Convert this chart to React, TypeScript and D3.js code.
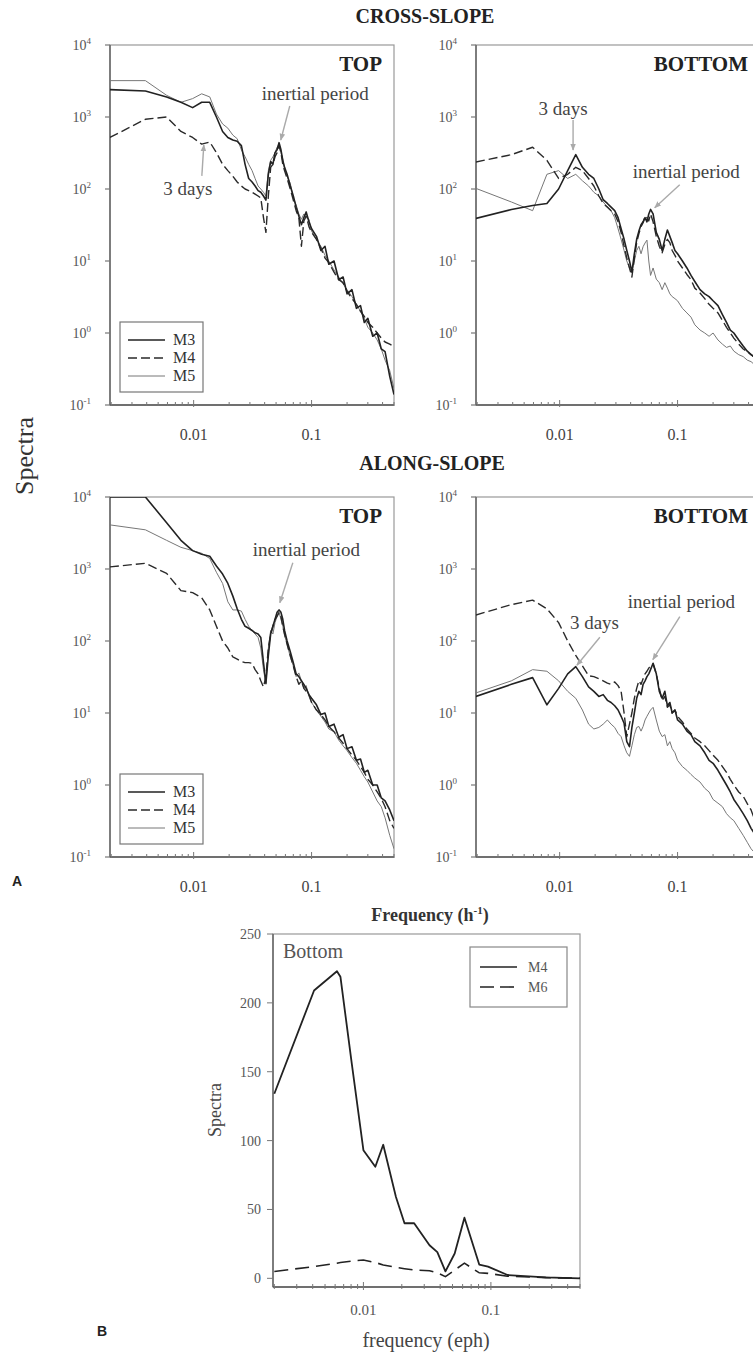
import * as d3 from 'd3';
import { useEffect, useRef } from 'react';

// frequency grid (cph) shared by the four log-log panels
const freq = [0.00195, 0.0039, 0.0059, 0.0078, 0.0098, 0.0117, 0.0137, 0.0156, 0.0176, 0.0195, 0.0215, 0.0234, 0.0254, 0.0273, 0.0293, 0.0313, 0.0332, 0.0352, 0.0371, 0.0391, 0.041, 0.043, 0.045, 0.047, 0.049, 0.051, 0.053, 0.055, 0.057, 0.059, 0.062, 0.066, 0.07, 0.074, 0.078, 0.082, 0.086, 0.09, 0.095, 0.1, 0.11, 0.12, 0.13, 0.14, 0.155, 0.17, 0.185, 0.2, 0.22, 0.24, 0.26, 0.28, 0.3, 0.33, 0.36, 0.39, 0.42, 0.46, 0.5];

// cross-slope, top
const crossTopM3 = [2400, 2300, 1900, 1600, 1350, 1600, 1600, 1000, 630, 520, 480, 460, 400, 220, 140, 125, 110, 95, 90, 80, 70, 160, 240, 220, 320, 350, 440, 350, 250, 200, 160, 110, 80, 56, 42, 32, 40, 48, 35, 28, 22, 14, 16, 9, 10, 5.5, 6, 3.5, 4, 2.2, 2.4, 1.4, 1.6, 0.9, 1.0, 0.6, 0.55, 0.25, 0.14];
const crossTopM4 = [520, 930, 1000, 630, 520, 420, 450, 320, 220, 180, 150, 125, 110, 100, 95, 90, 85, 80, 75, 40, 25, 80, 200, 220, 280, 320, 400, 320, 220, 180, 140, 100, 70, 50, 40, 16, 36, 42, 30, 25, 20, 15, 11, 9.5, 7, 5.5, 5, 3.8, 3, 2.5, 2.0, 1.7, 1.4, 1.2, 1.0, 0.85, 0.75, 0.7, 0.65];
const crossTopM5 = [3200, 3200, 2000, 1600, 1800, 2100, 1900, 1100, 800, 700, 560, 500, 350, 280, 220, 180, 140, 110, 100, 90, 80, 180, 250, 280, 320, 380, 420, 320, 260, 190, 150, 120, 75, 60, 45, 38, 45, 40, 38, 26, 20, 16, 12, 10, 7.5, 6, 4.8, 4, 3.2, 2.5, 2, 1.6, 1.2, 1.0, 0.8, 0.6, 0.42, 0.3, 0.17];

// cross-slope, bottom
const crossBotM3 = [39, 52, 59, 63, 100, 180, 300, 200, 160, 140, 100, 71, 63, 56, 50, 40, 28, 20, 14, 10, 7, 12.6, 20, 26, 32, 35, 40, 35, 45, 52, 45, 25, 20, 14, 20, 27, 22, 18, 14, 12.6, 10, 8, 6.3, 5.2, 4, 3.5, 3.2, 2.8, 2.4, 1.8, 1.4, 1.1, 1.0, 0.8, 0.66, 0.56, 0.5, 0.45, 0.4];
const crossBotM4 = [237, 300, 380, 250, 140, 160, 200, 180, 140, 110, 80, 63, 56, 50, 45, 35, 25, 16, 11, 8, 6, 11, 18, 24, 30, 34, 42, 40, 36, 45, 35, 22, 16, 13, 17, 20, 18, 14, 12, 10, 8, 6.5, 5.5, 4.2, 3.6, 3, 2.5, 2.2, 1.9, 1.5, 1.2, 1.0, 0.85, 0.7, 0.6, 0.55, 0.5, 0.45, 0.4];
const crossBotM5 = [102, 66, 50, 160, 180, 140, 160, 130, 110, 90, 80, 66, 56, 50, 40, 28, 20, 14, 10, 8, 7, 10, 14, 16, 12.6, 15.8, 17.8, 19.5, 10, 6.3, 8, 5.6, 5, 4, 5, 4.2, 3.5, 3.2, 3, 2.8, 2.2, 1.9, 1.66, 1.3, 1.1, 1.0, 0.9, 1.0, 0.8, 0.7, 0.63, 0.66, 0.56, 0.5, 0.47, 0.42, 0.4, 0.35, 0.32];

// along-slope, top
const alongTopM3 = [10000, 10000, 4400, 2500, 1800, 1600, 1500, 1100, 850, 630, 420, 280, 200, 160, 150, 140, 130, 125, 112, 50, 26, 63, 125, 160, 200, 250, 270, 250, 200, 140, 100, 71, 50, 35, 32, 28, 25, 22, 18, 16, 13, 9.5, 10, 6.5, 7, 4.6, 5, 3.2, 3.4, 2.2, 2.3, 1.5, 1.6, 1.0, 1.0, 0.66, 0.6, 0.45, 0.32];
const alongTopM4 = [1070, 1200, 870, 500, 470, 400, 270, 160, 100, 80, 60, 56, 52, 50, 50, 49, 40, 35, 28, 23, 32, 80, 125, 160, 200, 220, 250, 220, 160, 125, 90, 63, 45, 32, 25, 28, 22, 20, 18, 14, 11, 9.5, 8, 6.5, 5.5, 4.5, 3.8, 3.2, 2.6, 2.2, 1.8, 1.5, 1.2, 1.0, 0.8, 0.65, 0.5, 0.32, 0.25];
const alongTopM5 = [4100, 3500, 2500, 2000, 1800, 1650, 1400, 900, 630, 350, 270, 270, 260, 200, 160, 140, 125, 112, 80, 40, 25, 80, 140, 125, 180, 220, 250, 200, 160, 120, 90, 60, 45, 32, 36, 28, 22, 24, 17, 14, 11, 9, 7.5, 6, 5.5, 4.2, 3.5, 3, 2.4, 2, 1.6, 1.3, 1.1, 0.8, 0.6, 0.5, 0.35, 0.2, 0.13];

// along-slope, bottom
const alongBotM3 = [17, 25, 31, 13, 22, 35, 44, 32, 23, 20, 17, 18, 15, 14, 12.6, 11, 9, 7.2, 4, 3.4, 6.3, 10, 16, 20, 18, 25, 28, 32, 35, 40, 49, 35, 20, 16, 20, 12.6, 14, 10, 11, 8, 7, 5.6, 5, 4, 3.5, 2.8, 2.2, 2, 1.6, 1.25, 1.0, 0.8, 0.63, 0.5, 0.4, 0.32, 0.25, 0.2, 0.18];
const alongBotM4 = [230, 320, 370, 280, 180, 100, 63, 45, 33, 32, 30, 28, 26, 25, 27, 24, 20, 10, 4.7, 7, 10, 16, 22, 28, 25, 30, 35, 38, 42, 45, 48, 35, 22, 15, 17, 12, 13, 10, 11, 9, 7.5, 6, 5.2, 4.5, 4, 3.5, 3, 2.6, 2.2, 1.8, 1.5, 1.2, 1.0, 0.8, 0.7, 0.55, 0.45, 0.3, 0.22];
const alongBotM5 = [19, 28, 40, 38, 28, 20, 16, 11, 7, 6, 6.3, 7, 8, 7, 6.3, 5.2, 4.7, 3.5, 2.8, 2.5, 3.5, 5, 6.3, 6.5, 5.6, 6.5, 8, 9, 10, 11, 12, 8, 5.6, 4.7, 5, 3.5, 4, 3.2, 2.8, 2.2, 1.8, 1.6, 1.4, 1.25, 1.1, 0.9, 0.8, 0.63, 0.56, 0.5, 0.4, 0.35, 0.32, 0.25, 0.2, 0.16, 0.13, 0.11, 0.1];

// panel B (linear spectra, bottom)
const bFreq = [0.002, 0.0041, 0.0062, 0.0066, 0.0081, 0.01, 0.0124, 0.0143, 0.018, 0.021, 0.025, 0.033, 0.038, 0.044, 0.052, 0.062, 0.081, 0.095, 0.135, 0.27, 0.5];
const bM4 = [134, 209, 223, 219, 156, 93, 81, 97, 59, 40, 40, 24, 19, 5, 18, 44, 10, 8.5, 2.4, 0.7, 0];
const bM6 = [5, 8.5, 11, 11.5, 12.5, 13.3, 11.5, 9.7, 8, 7, 6, 5.5, 4, 1.2, 6, 11, 4, 3.6, 1.5, 0.5, 0];
const bYTicks = [0, 50, 100, 150, 200, 250];

const logYTicks = [-1, 0, 1, 2, 3, 4];
const freqTickLabels = [0.01, 0.1];

const W = 753;
const H = 1371;
const SERIF = '"Liberation Serif", "DejaVu Serif", serif';
const PW = 284;
const PH = 360;

const styleM3 = { color: '#222', width: 1.6, dash: null };
const styleM4 = { color: '#2a2a2a', width: 1.4, dash: '9,4' };
const styleM5 = { color: '#777', width: 1.0, dash: null };

function minorTicks(lo, hi) {
  const out = [];
  for (let e = -3; e <= 0; e++) {
    for (let m = 1; m <= 9; m++) {
      const v = m * Math.pow(10, e);
      if (v >= lo && v <= hi) out.push(v);
    }
  }
  return out;
}

function addArrow(g, x1, y1, x2, y2) {
  g.append('line')
    .attr('x1', x1).attr('y1', y1).attr('x2', x2).attr('y2', y2)
    .attr('stroke', '#aaa').attr('stroke-width', 1.4)
    .attr('marker-end', 'url(#arrowhead)');
}

function drawLogPanel(svg, id, o) {
  const x = d3.scaleLog().domain([1 / 512, 0.5]).range([o.left, o.left + PW]);
  const y = d3.scaleLog().domain([0.1, 1e4]).range([o.top + PH, o.top]);
  const g = svg.append('g');

  svg.select('defs').append('clipPath').attr('id', id)
    .append('rect').attr('x', o.left).attr('y', o.top).attr('width', PW).attr('height', PH);

  // frame: light top / right, darker axes
  g.append('rect').attr('x', o.left).attr('y', o.top).attr('width', PW).attr('height', PH)
    .attr('fill', 'none').attr('stroke', '#999').attr('stroke-width', 1.2);
  g.append('line').attr('x1', o.left).attr('x2', o.left).attr('y1', o.top).attr('y2', o.top + PH)
    .attr('stroke', '#666').attr('stroke-width', 1.5);
  g.append('line').attr('x1', o.left).attr('x2', o.left + PW).attr('y1', o.top + PH).attr('y2', o.top + PH)
    .attr('stroke', '#555').attr('stroke-width', 1.6);

  // y ticks 10^-1 .. 10^4
  logYTicks.forEach(e => {
    const yy = y(Math.pow(10, e));
    g.append('line').attr('x1', o.left - 5).attr('x2', o.left).attr('y1', yy).attr('y2', yy)
      .attr('stroke', '#777').attr('stroke-width', 1.2);
    const t = g.append('text').attr('x', o.left - 19).attr('y', yy + 5)
      .attr('text-anchor', 'end').attr('font-family', SERIF).attr('font-size', 14).attr('fill', '#555');
    t.append('tspan').text('10');
    t.append('tspan').attr('dy', -6).attr('font-size', 9).text(String(e));
  });

  // x ticks, log minor + labelled majors
  minorTicks(1 / 512, 0.5).forEach(v => {
    const major = freqTickLabels.includes(v);
    g.append('line').attr('x1', x(v)).attr('x2', x(v))
      .attr('y1', o.top + PH - (major ? 5 : 3)).attr('y2', o.top + PH + (major ? 2 : 1))
      .attr('stroke', '#777').attr('stroke-width', 1);
  });
  freqTickLabels.forEach(v => {
    g.append('text').attr('x', x(v)).attr('y', o.top + PH + 35).attr('text-anchor', 'middle')
      .attr('font-family', SERIF).attr('font-size', 16).attr('fill', '#444').text(String(v));
  });

  // spectra
  const line = d3.line().x((d, i) => x(freq[i])).y(d => y(Math.max(d, 0.1)));
  const plot = g.append('g').attr('clip-path', `url(#${id})`);
  [[o.series[2], styleM5], [o.series[1], styleM4], [o.series[0], styleM3]].forEach(([vals, st]) => {
    plot.append('path').datum(vals).attr('d', line).attr('fill', 'none')
      .attr('stroke', st.color).attr('stroke-width', st.width)
      .attr('stroke-dasharray', st.dash).attr('stroke-linejoin', 'round');
  });

  // panel label
  g.append('text').attr('x', o.left + PW - 12).attr('y', o.top + 26).attr('text-anchor', 'end')
    .attr('font-family', SERIF).attr('font-weight', 'bold').attr('font-size', 21).attr('fill', '#222')
    .text(o.label);

  // annotations: arrow tip in data units, text / tail offsets in px
  o.notes.forEach(n => {
    const tx = x(n.f);
    const ty = y(n.v);
    addArrow(g, tx + n.tail[0], ty + n.tail[1], tx, ty);
    g.append('text').attr('x', tx + n.at[0]).attr('y', ty + n.at[1]).attr('text-anchor', n.anchor)
      .attr('font-family', SERIF).attr('font-size', 19).attr('fill', '#444').text(n.text);
  });

  if (o.legend) {
    const bx = o.left + 10;
    const by = o.top + 277;
    g.append('rect').attr('x', bx).attr('y', by).attr('width', 83).attr('height', 70)
      .attr('fill', '#fff').attr('stroke', '#777').attr('stroke-width', 1.2);
    [['M3', styleM3], ['M4', styleM4], ['M5', styleM5]].forEach(([name, st], i) => {
      const ly = by + 18 + i * 18;
      g.append('line').attr('x1', bx + 8).attr('x2', bx + 45).attr('y1', ly).attr('y2', ly)
        .attr('stroke', st.color).attr('stroke-width', st.width).attr('stroke-dasharray', st.dash);
      g.append('text').attr('x', bx + 53).attr('y', ly + 5).attr('font-family', SERIF)
        .attr('font-size', 16).attr('fill', '#333').text(name);
    });
  }
}

function drawPanelB(svg) {
  const L = 273, R = 580, T = 934, B = 1287;
  const x = d3.scaleLog().domain([1 / 512, 0.5]).range([L, R]);
  const y = d3.scaleLinear().domain([-6.3, 250]).range([B, T]);
  const g = svg.append('g');

  g.append('rect').attr('x', L).attr('y', T).attr('width', R - L).attr('height', B - T)
    .attr('fill', 'none').attr('stroke', '#999').attr('stroke-width', 1.2);
  g.append('line').attr('x1', L).attr('x2', L).attr('y1', T).attr('y2', B).attr('stroke', '#666').attr('stroke-width', 1.5);
  g.append('line').attr('x1', L).attr('x2', R).attr('y1', B).attr('y2', B).attr('stroke', '#555').attr('stroke-width', 1.6);

  bYTicks.forEach(v => {
    g.append('line').attr('x1', L - 6).attr('x2', L).attr('y1', y(v)).attr('y2', y(v)).attr('stroke', '#777');
    g.append('text').attr('x', L - 12).attr('y', y(v) + 5).attr('text-anchor', 'end')
      .attr('font-family', SERIF).attr('font-size', 14).attr('fill', '#555').text(String(v));
  });
  minorTicks(1 / 512, 0.5).forEach(v => {
    const major = freqTickLabels.includes(v);
    g.append('line').attr('x1', x(v)).attr('x2', x(v))
      .attr('y1', B - (major ? 5 : 3)).attr('y2', B + (major ? 3 : 2)).attr('stroke', '#777');
  });
  freqTickLabels.forEach(v => {
    g.append('text').attr('x', x(v)).attr('y', B + 28).attr('text-anchor', 'middle')
      .attr('font-family', SERIF).attr('font-size', 15).attr('fill', '#555').text(String(v));
  });

  const line = d3.line().x((d, i) => x(bFreq[i])).y(d => y(d));
  g.append('path').datum(bM6).attr('d', line).attr('fill', 'none').attr('stroke', '#222')
    .attr('stroke-width', 1.6).attr('stroke-dasharray', '14,7');
  g.append('path').datum(bM4).attr('d', line).attr('fill', 'none').attr('stroke', '#222')
    .attr('stroke-width', 1.8).attr('stroke-linejoin', 'round');

  g.append('text').attr('x', L + 10).attr('y', T + 24).attr('font-family', SERIF)
    .attr('font-size', 20).attr('fill', '#555').text('Bottom');

  // legend
  g.append('rect').attr('x', 470).attr('y', 947).attr('width', 97).attr('height', 60)
    .attr('fill', '#fff').attr('stroke', '#888').attr('stroke-width', 1.2);
  [['M4', null], ['M6', '14,6']].forEach(([name, dash], i) => {
    const ly = 967 + i * 20;
    g.append('line').attr('x1', 480).attr('x2', 517).attr('y1', ly).attr('y2', ly)
      .attr('stroke', '#222').attr('stroke-width', 1.6).attr('stroke-dasharray', dash);
    g.append('text').attr('x', 528).attr('y', ly + 5).attr('font-family', SERIF)
      .attr('font-size', 14).attr('fill', '#555').text(name);
  });

  g.append('text').attr('transform', 'translate(221,1110) rotate(-90)').attr('text-anchor', 'middle')
    .attr('font-family', SERIF).attr('font-size', 18).attr('fill', '#444').text('Spectra');
  g.append('text').attr('x', 426).attr('y', 1347).attr('text-anchor', 'middle')
    .attr('font-family', SERIF).attr('font-size', 20).attr('fill', '#444').text('frequency (eph)');
}

export default function App() {
  const ref = useRef(null);

  useEffect(() => {
    const svg = d3.select(ref.current);
    svg.selectAll('*').remove();
    const defs = svg.append('defs');
    defs.append('marker').attr('id', 'arrowhead').attr('viewBox', '0 0 10 10')
      .attr('refX', 9).attr('refY', 5).attr('markerWidth', 5).attr('markerHeight', 5)
      .attr('orient', 'auto')
      .append('path').attr('d', 'M0,1 L10,5 L0,9 z').attr('fill', '#aaa');

    drawLogPanel(svg, 'clip-ct', {
      left: 110, top: 45, label: 'TOP', legend: true,
      series: [crossTopM3, crossTopM4, crossTopM5],
      notes: [
        { text: 'inertial period', f: 0.0548, v: 480, tail: [9, -34], at: [-19, -40], anchor: 'start' },
        { text: '3 days', f: 0.0122, v: 410, tail: [-2, 31], at: [-16, 50], anchor: 'middle' }
      ]
    });
    drawLogPanel(svg, 'clip-cb', {
      left: 476, top: 45, label: 'BOTTOM', legend: false,
      series: [crossBotM3, crossBotM4, crossBotM5],
      notes: [
        { text: '3 days', f: 0.013, v: 347, tail: [0, -30], at: [-10, -35], anchor: 'middle' },
        { text: 'inertial period', f: 0.064, v: 55, tail: [25, -23], at: [-22, -30], anchor: 'start' }
      ]
    });
    drawLogPanel(svg, 'clip-at', {
      left: 110, top: 497, label: 'TOP', legend: true,
      series: [alongTopM3, alongTopM4, alongTopM5],
      notes: [
        { text: 'inertial period', f: 0.0538, v: 340, tail: [13, -40], at: [-27, -47], anchor: 'start' }
      ]
    });
    drawLogPanel(svg, 'clip-ab', {
      left: 476, top: 497, label: 'BOTTOM', legend: false,
      series: [alongBotM3, alongBotM4, alongBotM5],
      notes: [
        { text: '3 days', f: 0.014, v: 46, tail: [23, -28], at: [-7, -36], anchor: 'start' },
        { text: 'inertial period', f: 0.0617, v: 55, tail: [27, -43], at: [-25, -52], anchor: 'start' }
      ]
    });

    // section titles and shared labels
    svg.append('text').attr('x', 425).attr('y', 23).attr('text-anchor', 'middle')
      .attr('font-family', SERIF).attr('font-weight', 'bold').attr('font-size', 20).attr('fill', '#222')
      .text('CROSS-SLOPE');
    svg.append('text').attr('x', 432).attr('y', 470).attr('text-anchor', 'middle')
      .attr('font-family', SERIF).attr('font-weight', 'bold').attr('font-size', 20).attr('fill', '#222')
      .text('ALONG-SLOPE');
    svg.append('text').attr('transform', 'translate(33,456) rotate(-90)').attr('text-anchor', 'middle')
      .attr('font-family', SERIF).attr('font-size', 26).attr('fill', '#333').text('Spectra');
    const fl = svg.append('text').attr('x', 430).attr('y', 921).attr('text-anchor', 'middle')
      .attr('font-family', SERIF).attr('font-weight', 'bold').attr('font-size', 18).attr('fill', '#333');
    fl.append('tspan').text('Frequency (h');
    fl.append('tspan').attr('dy', -7).attr('font-size', 11).text('-1');
    fl.append('tspan').attr('dy', 7).text(')');
    svg.append('text').attr('x', 12).attr('y', 886).attr('font-family', '"Liberation Sans", Arial, sans-serif')
      .attr('font-weight', 'bold').attr('font-size', 14).attr('fill', '#222').text('A');
    svg.append('text').attr('x', 97).attr('y', 1336).attr('font-family', '"Liberation Sans", Arial, sans-serif')
      .attr('font-weight', 'bold').attr('font-size', 14).attr('fill', '#222').text('B');

    drawPanelB(svg);
  }, []);

  return (
    <svg ref={ref} width={W} height={H}
      style={{ position: 'absolute', left: 0, top: 0, background: '#fff' }} />
  );
}
